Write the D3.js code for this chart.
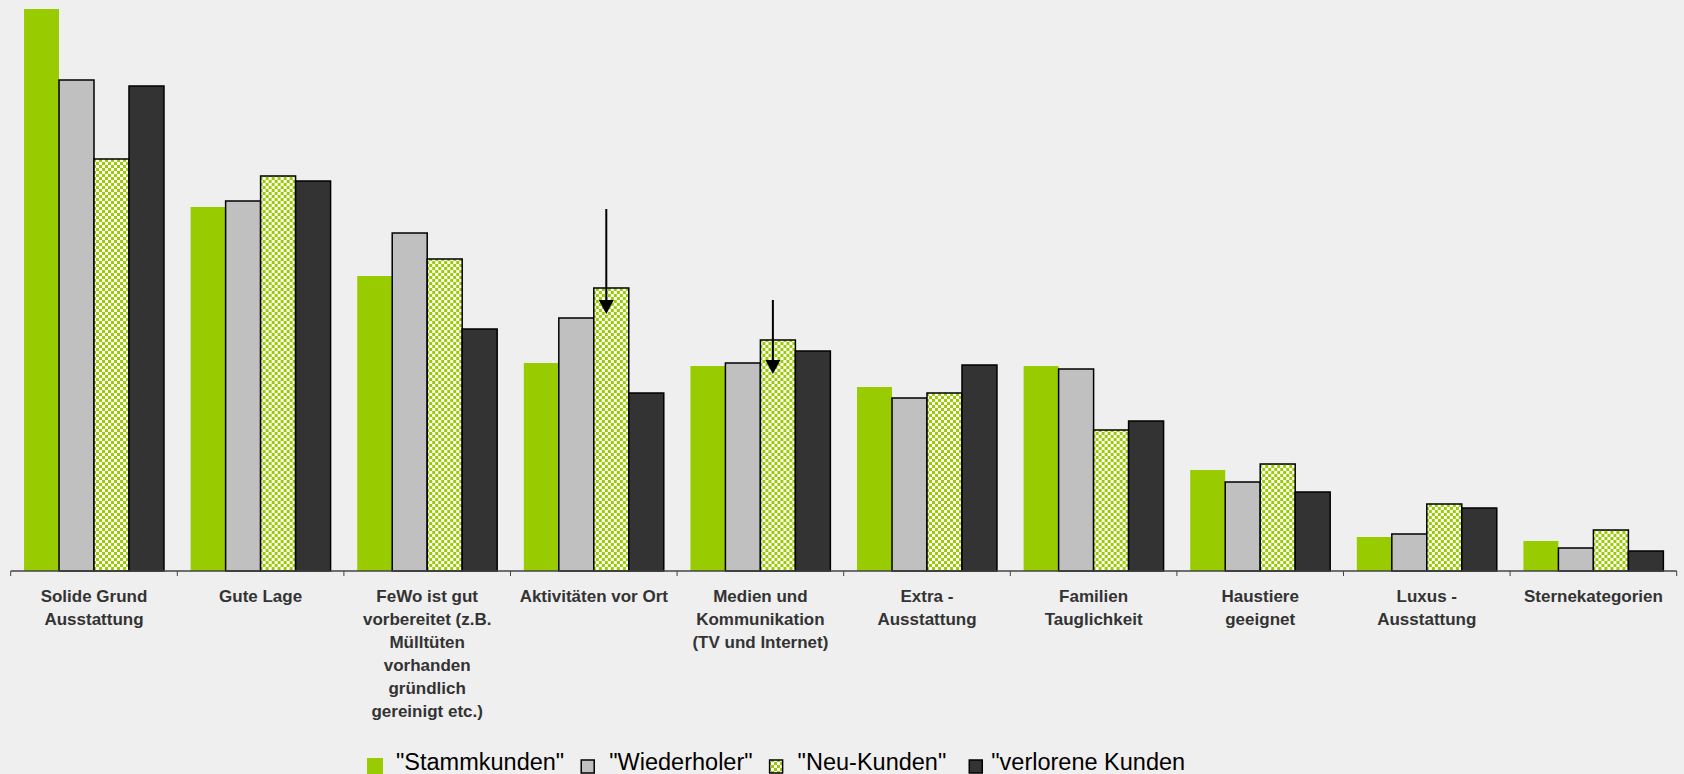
<!DOCTYPE html>
<html>
<head>
<meta charset="utf-8">
<script src="https://cdn.jsdelivr.net/npm/d3@7"></script>
<style>
  html, body { margin: 0; padding: 0; background: #efefef; }
  svg { display: block; }
</style>
</head>
<body>
<svg id="chart" width="1684" height="774"></svg>
<script>
// Kategorien (mit Zeilenumbrüchen für die Achsenbeschriftung)
const categories = [
  ["Solide Grund", "Ausstattung"],
  ["Gute Lage"],
  ["FeWo ist gut", "vorbereitet (z.B.", "Mülltüten", "vorhanden", "gründlich", "gereinigt etc.)"],
  ["Aktivitäten vor Ort"],
  ["Medien und", "Kommunikation", "(TV und Internet)"],
  ["Extra -", "Ausstattung"],
  ["Familien", "Tauglichkeit"],
  ["Haustiere", "geeignet"],
  ["Luxus -", "Ausstattung"],
  ["Sternekategorien"]
];

const seriesNames = ["\"Stammkunden\"", "\"Wiederholer\"", "\"Neu-Kunden\"", "\"verlorene Kunden"];

// Anteile in Prozent je Kundengruppe
const stammkunden = [56.2, 36.4, 29.5, 20.8, 20.5, 18.4, 20.5, 10.1, 3.4, 3.0];
const wiederholer = [49.1, 37.0, 33.8, 25.3, 20.8, 17.3, 20.2, 8.9, 3.7, 2.3];
const neuKunden   = [41.2, 39.5, 31.2, 28.3, 23.1, 17.8, 14.1, 10.7, 6.7, 4.1];
const verloren    = [48.5, 39.0, 24.2, 17.8, 22.0, 20.6, 15.0, 7.9, 6.3, 2.0];

// Hinweispfeile auf die Neu-Kunden-Balken (Kategorie-Index, Start- und Endwert)
const arrowCategory = [3, 4];
const arrowFrom     = [36.2, 27.1];
const arrowTo       = [25.7, 19.7];

const seriesValues = [stammkunden, wiederholer, neuKunden, verloren];

const svg = d3.select("#chart");
const baseY = 571, topY = 9;
const left = 10.7, right = 1676.7;

const catIdx = d3.range(categories.length);
const x = d3.scaleBand().domain(catIdx).range([left, right]).paddingInner(0.16).paddingOuter(0.08);
const xs = d3.scaleBand().domain(d3.range(4)).range([0, x.bandwidth()]).padding(0);
const y = d3.scaleLinear().domain([0, d3.max(stammkunden)]).range([baseY, topY]);

// Karomuster für Neu-Kunden
const defs = svg.append("defs");
const pat = defs.append("pattern").attr("id", "checker")
  .attr("patternUnits", "userSpaceOnUse").attr("width", 6).attr("height", 6);
pat.append("rect").attr("width", 6).attr("height", 6).attr("fill", "#ffffff");
pat.append("rect").attr("width", 3).attr("height", 3).attr("fill", "#99cc00");
pat.append("rect").attr("x", 3).attr("y", 3).attr("width", 3).attr("height", 3).attr("fill", "#99cc00");

const fills = ["#99cc00", "#c0c0c0", "url(#checker)", "#333333"];
const strokes = ["none", "#000", "#000", "#000"];

// Balken
const groups = svg.append("g").selectAll("g").data(catIdx).join("g")
  .attr("transform", i => `translate(${x(i)},0)`);

groups.selectAll("rect").data(i => seriesValues.map((s, k) => ({k, v: s[i]}))).join("rect")
  .attr("x", d => xs(d.k))
  .attr("y", d => y(d.v))
  .attr("width", xs.bandwidth())
  .attr("height", d => baseY - y(d.v))
  .attr("fill", d => fills[d.k])
  .attr("stroke", d => strokes[d.k])
  .attr("stroke-width", 1.5);

// x-Achse mit Teilstrichen zwischen den Kategorien
const axisG = svg.append("g");
axisG.append("line").attr("x1", left).attr("x2", right).attr("y1", baseY).attr("y2", baseY)
  .attr("stroke", "#444").attr("stroke-width", 1.5);
const step = x.step();
axisG.selectAll("line.tick").data(d3.range(categories.length + 1)).join("line")
  .attr("class", "tick")
  .attr("x1", i => left + i * step).attr("x2", i => left + i * step)
  .attr("y1", baseY).attr("y2", baseY + 5)
  .attr("stroke", "#444").attr("stroke-width", 1);

// Kategorie-Beschriftungen
const labels = svg.append("g").selectAll("text").data(catIdx).join("text")
  .attr("x", i => x(i) + x.bandwidth() / 2)
  .attr("text-anchor", "middle")
  .attr("font-family", "'Liberation Sans', Arial, sans-serif")
  .attr("font-weight", "bold")
  .attr("font-size", 17)
  .attr("fill", "#333");
labels.selectAll("tspan").data(i => categories[i].map((t, j) => ({t, j}))).join("tspan")
  .attr("x", function() { return d3.select(this.parentNode).attr("x"); })
  .attr("y", d => 602 + d.j * 23)
  .text(d => d.t);

// Pfeile
const arrows = svg.append("g");
arrowCategory.forEach((c, a) => {
  const ax = x(c) + xs(2) + xs.bandwidth() / 2 - 5;
  const y0 = y(arrowFrom[a]), y1 = y(arrowTo[a]);
  arrows.append("line").attr("x1", ax).attr("x2", ax).attr("y1", y0).attr("y2", y1 - 12)
    .attr("stroke", "#000").attr("stroke-width", 2);
  arrows.append("path")
    .attr("d", `M${ax - 7.5},${y1 - 14} L${ax + 7.5},${y1 - 14} L${ax},${y1} Z`)
    .attr("fill", "#000");
});

// Legende
const legend = svg.append("g").attr("font-family", "'Liberation Sans', Arial, sans-serif")
  .attr("font-size", 23.5).attr("fill", "#000");
const swatchGap = [13, 14, 14, 8];
const itemGap = [16, 16, 22, 0];
let lx = 367;
seriesNames.forEach((name, k) => {
  if (k === 0) {
    legend.append("rect").attr("x", lx).attr("y", 758).attr("width", 16).attr("height", 16)
      .attr("fill", fills[k]);
    lx += 16 + swatchGap[k];
  } else {
    legend.append("rect").attr("x", lx + 1).attr("y", 760).attr("width", 13).attr("height", 13)
      .attr("fill", fills[k]).attr("stroke", "#000").attr("stroke-width", 1.5);
    lx += 15 + swatchGap[k];
  }
  const t = legend.append("text").attr("x", lx).attr("y", 770).text(name);
  lx += t.node().getComputedTextLength() + itemGap[k];
});
</script>
</body>
</html>
